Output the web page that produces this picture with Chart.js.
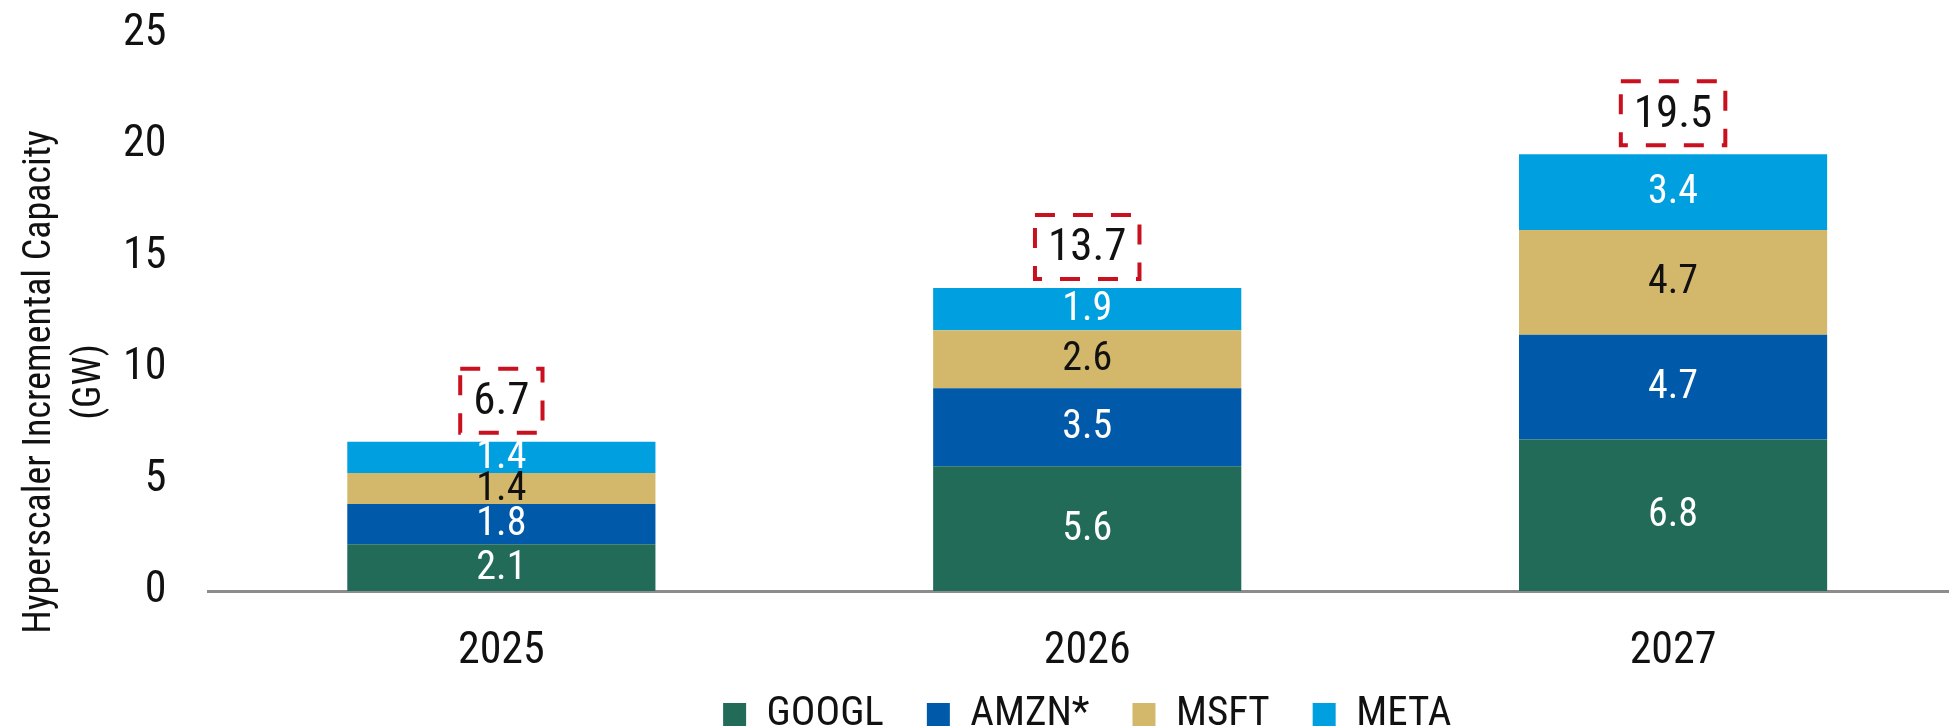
<!DOCTYPE html>
<html>
<head>
<meta charset="utf-8">
<script src="https://cdn.jsdelivr.net/npm/chart.js@4.4.1/dist/chart.umd.min.js"></script>
<style>
  html, body { margin: 0; padding: 0; overflow: hidden; background: #fff; }
  #wrap { width: 1966px; height: 775px; position: relative; }
</style>
</head>
<body>
<div id="wrap"><canvas id="c"></canvas></div>
<script>
const years = ["2025", "2026", "2027"]
const googl = [2.1, 5.6, 6.8]
const amzn = [1.8, 3.5, 4.7]
const msft = [1.4, 2.6, 4.7]
const meta = [1.4, 1.9, 3.4]
const totals = [6.7, 13.7, 19.5]
const yTicks = [0, 5, 10, 15, 20, 25]
const axisTitle = ["Hyperscaler Incremental Capacity", "(GW)"]

const FONT = '"Liberation Sans Narrow", "Roboto Condensed", "Arial Narrow", Roboto, sans-serif'
const segLabelColor = ["#ffffff", "#ffffff", "#111111", "#ffffff"]

Chart.defaults.font.family = FONT
Chart.defaults.color = "#111"

// value inside each segment + dashed total box above each bar
const barLabels = {
  id: "barLabels",
  afterDatasetsDraw(chart) {
    const ctx = chart.ctx
    ctx.save()
    ctx.textAlign = "center"
    ctx.textBaseline = "middle"
    chart.data.datasets.forEach((ds, i) => {
      chart.getDatasetMeta(i).data.forEach((bar, j) => {
        const p = bar.getProps(["x", "y", "base"], true)
        ctx.fillStyle = segLabelColor[i]
        ctx.font = `40px ${FONT}`
        ctx.fillText(ds.data[j].toFixed(1), p.x, (p.y + p.base) / 2 + 1)
      })
    })
    const last = chart.getDatasetMeta(chart.data.datasets.length - 1)
    last.data.forEach((bar, j) => {
      const txt = totals[j].toFixed(1)
      ctx.font = `45px ${FONT}`
      const w = ctx.measureText(txt).width + 26
      const h = 64
      const cy = bar.y - 9 - h / 2
      ctx.setLineDash([20, 18])
      ctx.lineWidth = 4
      ctx.strokeStyle = "#c8101e"
      ctx.strokeRect(bar.x - w / 2, cy - h / 2, w, h)
      ctx.setLineDash([])
      ctx.fillStyle = "#111"
      ctx.fillText(txt, bar.x, cy + 2)
    })
    ctx.restore()
  },
}

// two-line rotated y axis title
const yTitle = {
  id: "yTitle",
  afterDraw(chart) {
    const ctx = chart.ctx
    ctx.save()
    ctx.translate(40, 382)
    ctx.rotate(-Math.PI / 2)
    ctx.textAlign = "center"
    ctx.textBaseline = "middle"
    ctx.fillStyle = "#111"
    ctx.font = `38px ${FONT}`
    ctx.fillText(axisTitle[0], 0, 0)
    ctx.fillText(axisTitle[1], 0, 50)
    ctx.restore()
  },
}

// pull the legend row up closer to the year labels
const legendShift = {
  id: "legendShift",
  afterLayout(chart) {
    chart.legend.top -= 30
    chart.legend.bottom -= 30
  },
}

new Chart(document.getElementById("c"), {
  type: "bar",
  data: {
    labels: years,
    datasets: [
      { label: "GOOGL", data: googl, backgroundColor: "#236b59" },
      { label: "AMZN*", data: amzn, backgroundColor: "#005aa9" },
      { label: "MSFT", data: msft, backgroundColor: "#d3b86b" },
      { label: "META", data: meta, backgroundColor: "#00a0e0" },
    ],
  },
  options: {
    responsive: true,
    maintainAspectRatio: false,
    animation: false,
    layout: { padding: { left: 81, top: 34, right: 0, bottom: 0 } },
    datasets: { bar: { barPercentage: 0.526, categoryPercentage: 1 } },
    scales: {
      x: {
        stacked: true,
        grid: { display: false, drawTicks: false },
        border: { display: true, color: "#8c8c8c", width: 3 },
        ticks: { padding: 35, font: { size: 44 }, color: "#111" },
        afterFit: (s) => { s.height = 90 },
      },
      y: {
        stacked: true,
        min: 0,
        max: 25,
        grid: { display: false, drawTicks: false },
        border: { display: false },
        ticks: { padding: 42, font: { size: 44 }, color: "#111" },
        afterBuildTicks: (s) => { s.ticks = yTicks.map((v) => ({ value: v })) },
        afterFit: (s) => { s.paddingTop = 0; s.paddingBottom = 0 },
      },
    },
    plugins: {
      legend: {
        position: "bottom",
        fullSize: false,
        labels: { boxWidth: 23, boxHeight: 23, padding: 43, font: { size: 41 }, color: "#111" },
      },
      tooltip: { enabled: false },
    },
  },
  plugins: [barLabels, yTitle, legendShift],
})
</script>
</body>
</html>
